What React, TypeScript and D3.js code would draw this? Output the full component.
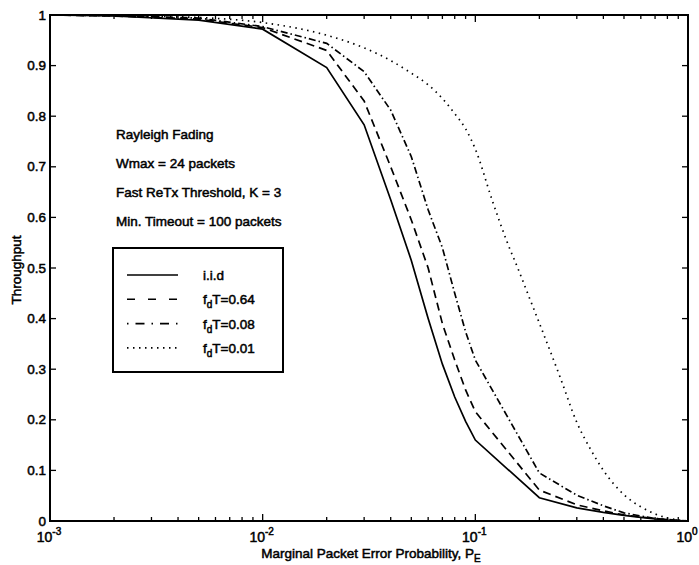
import React from "react";
import * as d3 from "d3";

// packet error probability grid (solid / dashed / dash-dot curves)
const pGrid = [0.001, 0.002, 0.005, 0.01, 0.02, 0.03, 0.04, 0.05, 0.06, 0.07, 0.08, 0.09, 0.1, 0.2, 0.3, 0.4, 0.5, 0.6, 0.7, 0.8, 0.9, 1.0];
const iid = [1.0, 0.998, 0.99, 0.972, 0.896, 0.783, 0.635, 0.515, 0.4, 0.31, 0.245, 0.197, 0.16, 0.046, 0.026, 0.017, 0.011, 0.007, 0.004, 0.002, 0.001, 0];
const fd064 = [1.0, 0.998, 0.992, 0.975, 0.93, 0.83, 0.7, 0.595, 0.5, 0.39, 0.318, 0.259, 0.216, 0.061, 0.032, 0.02, 0.012, 0.008, 0.005, 0.003, 0.001, 0];
const fd008 = [1.0, 0.999, 0.994, 0.977, 0.944, 0.888, 0.812, 0.72, 0.615, 0.54, 0.45, 0.374, 0.318, 0.095, 0.051, 0.03, 0.016, 0.01, 0.005, 0.003, 0.001, 0];

// the dotted curve is smoother, finer grid
const pDotted = [0.001, 0.002, 0.005, 0.01, 0.02, 0.03, 0.04, 0.05, 0.06, 0.07, 0.08, 0.09, 0.1, 0.12, 0.14, 0.16, 0.18, 0.2, 0.25, 0.3, 0.35, 0.4, 0.5, 0.6, 0.7, 0.8, 0.9, 1.0];
const fd001 = [1.0, 0.999, 0.995, 0.985, 0.96, 0.935, 0.91, 0.885, 0.862, 0.835, 0.805, 0.775, 0.735, 0.634, 0.555, 0.495, 0.44, 0.391, 0.285, 0.195, 0.14, 0.1, 0.052, 0.028, 0.014, 0.006, 0.002, 0];

const yTicks = [0, 0.1, 0.2, 0.3, 0.4, 0.5, 0.6, 0.7, 0.8, 0.9, 1];
const xMajor = [-3, -2, -1, 0];
const notes = ["Rayleigh Fading", "Wmax = 24 packets", "Fast ReTx Threshold, K = 3", "Min. Timeout = 100 packets"];
const legendItems = [
  { label: "i.i.d", sub: "", rest: "", dash: "none" },
  { label: "f", sub: "d", rest: "T=0.64", dash: "8,13" },
  { label: "f", sub: "d", rest: "T=0.08", dash: "1.5,7,9,7" },
  { label: "f", sub: "d", rest: "T=0.01", dash: "1.5,4.5" },
];

const W = 699;
const H = 565;
const left = 50, right = 688, top = 15, bottom = 521;
const font = "'Liberation Sans', Arial, Helvetica, sans-serif";

export default function App() {
  const x = d3.scaleLog().domain([0.001, 1]).range([left, right]);
  const y = d3.scaleLinear().domain([0, 1]).range([bottom, top]);

  const line = d3.line<[number, number]>().x((d) => x(d[0])).y((d) => y(d[1]));
  const smooth = d3.line<[number, number]>().x((d) => x(d[0])).y((d) => y(d[1])).curve(d3.curveMonotoneX);

  const series = [
    { d: line(pGrid.map((p, i) => [p, iid[i]])), dash: "none" },
    { d: line(pGrid.map((p, i) => [p, fd064[i]])), dash: "8,5" },
    { d: line(pGrid.map((p, i) => [p, fd008[i]])), dash: "7,3,1.5,3" },
    { d: smooth(pDotted.map((p, i) => [p, fd001[i]])), dash: "1.5,4.5" },
  ];

  const minor: number[] = [];
  for (let e = -3; e < 0; e++) for (let k = 2; k <= 9; k++) minor.push(k * Math.pow(10, e));

  const txt = { fontFamily: font, fill: "#000", stroke: "#000", strokeWidth: 0.5 } as const;

  const legX = 113, legY = 248, legW = 170, legH = 124;

  return (
    <svg width={W} height={H} style={{ position: "absolute", left: 0, top: 0, background: "#fff" }}>
      <rect width={W} height={H} fill="#fff" />

      {/* curves */}
      <g fill="none" stroke="#000" strokeWidth={1.7}>
        {series.map((s, i) => (
          <path key={i} d={s.d || ""} strokeDasharray={s.dash} strokeLinecap="butt" />
        ))}
      </g>

      {/* frame */}
      <rect x={left} y={top} width={right - left} height={bottom - top} fill="none" stroke="#000" strokeWidth={2} />

      {/* ticks */}
      <g stroke="#000" strokeWidth={1.3}>
        {yTicks.map((t) => (
          <g key={t}>
            <line x1={left} x2={left + 6} y1={y(t)} y2={y(t)} />
            <line x1={right} x2={right - 6} y1={y(t)} y2={y(t)} />
          </g>
        ))}
        {xMajor.map((e) => (
          <g key={e}>
            <line x1={x(Math.pow(10, e))} x2={x(Math.pow(10, e))} y1={bottom} y2={bottom - 7} />
            <line x1={x(Math.pow(10, e))} x2={x(Math.pow(10, e))} y1={top} y2={top + 7} />
          </g>
        ))}
        {minor.map((m) => (
          <g key={m}>
            <line x1={x(m)} x2={x(m)} y1={bottom} y2={bottom - 4} />
            <line x1={x(m)} x2={x(m)} y1={top} y2={top + 4} />
          </g>
        ))}
      </g>

      {/* y tick labels */}
      {yTicks.map((t) => (
        <text key={t} x={left - 4} y={y(t) + 4.5} textAnchor="end" fontSize={13.5} {...txt}>
          {t === 0 || t === 1 ? String(t) : t.toFixed(1)}
        </text>
      ))}

      {/* x tick labels */}
      {xMajor.map((e) => (
        <text key={e} x={x(Math.pow(10, e)) - 1} y={542} textAnchor="middle" fontSize={14} {...txt}>
          10
          <tspan dy={-7} fontSize={10}>{e === 0 ? "0" : "-" + Math.abs(e)}</tspan>
        </text>
      ))}

      {/* axis titles */}
      <text x={371} y={558} textAnchor="middle" fontSize={13.5} {...txt}>
        Marginal Packet Error Probability, P
        <tspan dy={4} fontSize={10}>E</tspan>
      </text>
      <text transform="translate(21,270) rotate(-90)" textAnchor="middle" fontSize={13.5} {...txt}>
        Throughput
      </text>

      {/* annotations */}
      {notes.map((n, i) => (
        <text key={n} x={116} y={139 + i * 29} fontSize={13.5} {...txt}>
          {n}
        </text>
      ))}

      {/* legend */}
      <rect x={legX} y={legY} width={legW} height={legH} fill="#fff" stroke="#000" strokeWidth={2} />
      {legendItems.map((it, i) => {
        const ly = 275 + i * 24.3;
        return (
          <g key={i}>
            <line x1={127} x2={178} y1={ly} y2={ly} stroke="#000" strokeWidth={1.6} strokeDasharray={it.dash} />
            <text x={203} y={ly + 5} fontSize={13.5} {...txt}>
              {it.label}
              {it.sub ? <tspan dy={4} fontSize={10}>{it.sub}</tspan> : null}
              {it.sub ? <tspan dy={-4}>{it.rest}</tspan> : null}
            </text>
          </g>
        );
      })}
    </svg>
  );
}
